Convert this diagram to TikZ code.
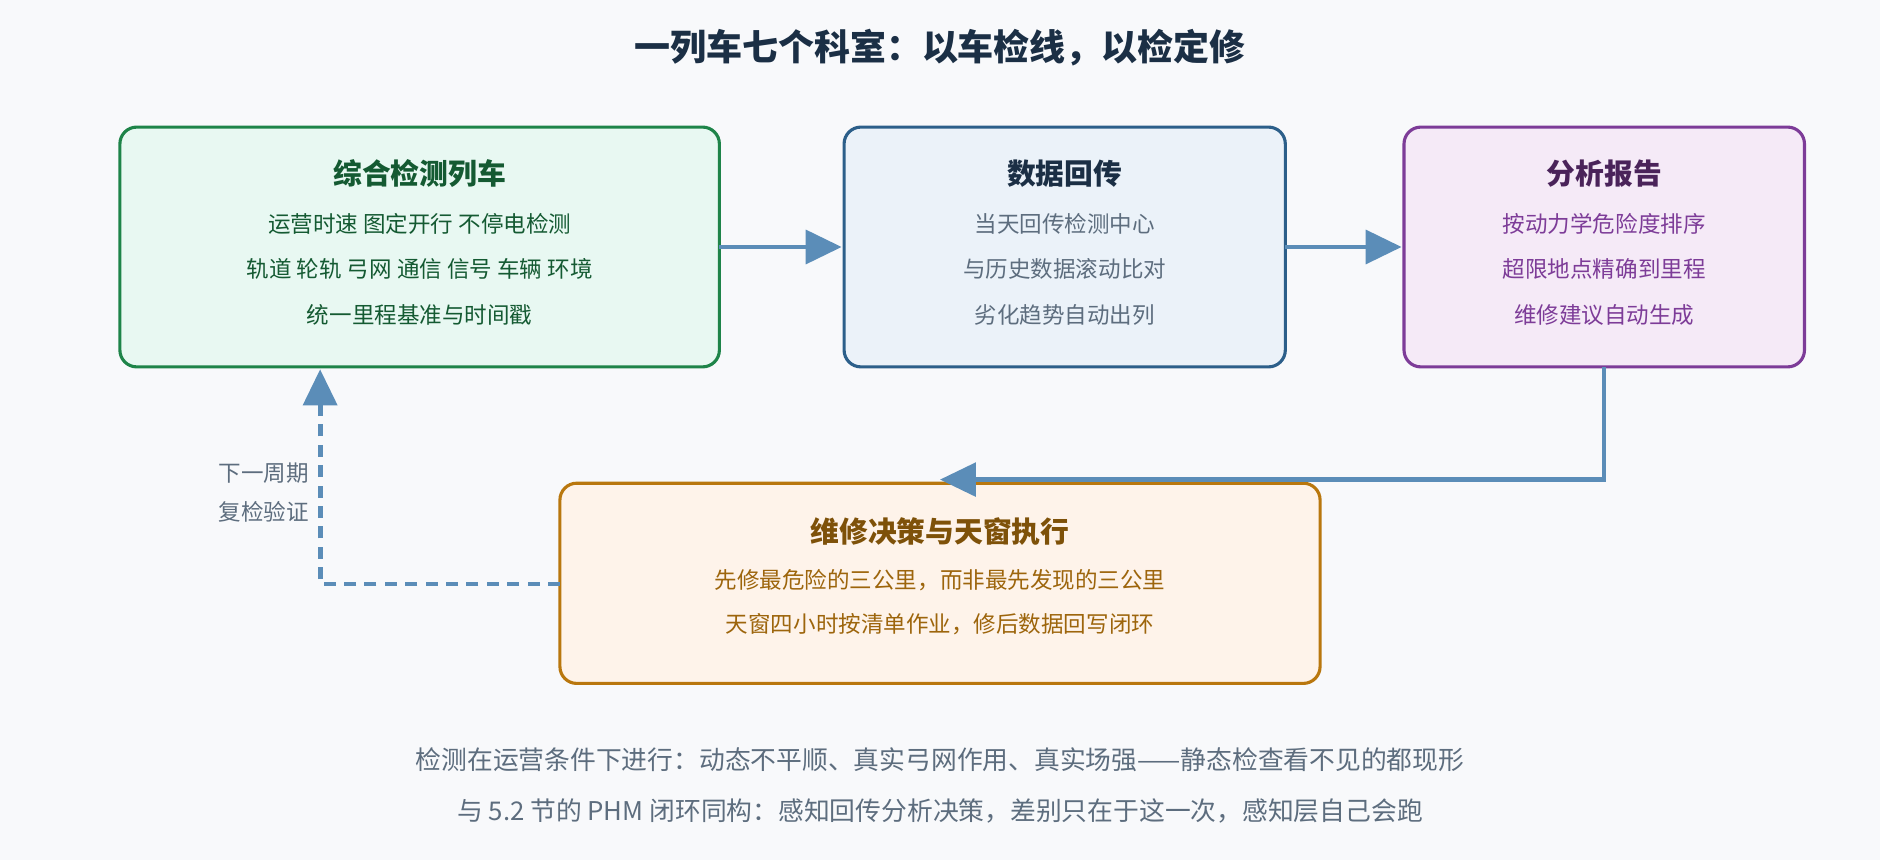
\documentclass[tikz,border=0pt]{standalone}
\usepackage{fontspec}
\setmainfont{Noto Sans CJK SC}
\usetikzlibrary{arrows.meta}
\definecolor{bgc}{HTML}{F8F9FB}
\definecolor{grnd}{HTML}{1E8449}\definecolor{grnf}{HTML}{E8F8F2}\definecolor{grnt}{HTML}{145A32}
\definecolor{blud}{HTML}{2C5F8A}\definecolor{bluf}{HTML}{EBF2F9}\definecolor{blut}{HTML}{1B2F45}
\definecolor{purd}{HTML}{7D3C98}\definecolor{purf}{HTML}{F5EAF7}\definecolor{purt}{HTML}{4A235A}
\definecolor{orgd}{HTML}{B9770E}\definecolor{orgf}{HTML}{FEF3EA}\definecolor{orgt}{HTML}{7E5109}
\definecolor{arrc}{HTML}{5B8DB8}\definecolor{gryt}{HTML}{5D6D7E}
\tikzset{
  box/.style={draw, line width=2.6pt, rounded corners=14pt},
  ttl/.style={font=\bfseries\fontsize{24}{28}\selectfont},
  txt/.style={font=\fontsize{18.8}{22}\selectfont},
  flow/.style={draw=arrc, line width=4pt, -{Triangle[length=30pt,width=28pt]}},
}
\begin{document}
\begin{tikzpicture}[x=1pt,y=1pt,yscale=-1]
\fill[bgc] (0,0) rectangle (1568,717);
\useasboundingbox (0,0) rectangle (1568,717);

% title
\node[font=\bfseries\fontsize{30}{34}\selectfont, text=blut] (title) at (784,40) {一列车七个科室：以车检线，以检定修};

% boxes
\draw[box, draw=grnd, fill=grnf] (100,106) rectangle (600,306);
\draw[box, draw=blud, fill=bluf] (704,106) rectangle (1072,306);
\draw[box, draw=purd, fill=purf] (1171,106) rectangle (1505,306);
\draw[box, draw=orgd, fill=orgf] (467,403) rectangle (1101,570);
\coordinate (train) at (350,206);
\coordinate (data) at (888,206);
\coordinate (report) at (1338,206);
\coordinate (repair) at (784,487);

% texts of the train box
\node[ttl, text=grnt] (trainT) at (350,145) {综合检测列车};
\node[txt, text=grnt] (trainA) at (350,187) {运营时速 图定开行 不停电检测};
\node[txt, text=grnt] (trainB) at (350,224) {轨道 轮轨 弓网 通信 信号 车辆 环境};
\node[txt, text=grnt] (trainC) at (350,263) {统一里程基准与时间戳};
% texts of the data box
\node[ttl, text=blut] (dataT) at (888,145) {数据回传};
\node[txt, text=gryt] (dataA) at (888,187) {当天回传检测中心};
\node[txt, text=gryt] (dataB) at (888,224) {与历史数据滚动比对};
\node[txt, text=gryt] (dataC) at (888,263) {劣化趋势自动出列};
% texts of the report box
\node[ttl, text=purt] (reportT) at (1338,145) {分析报告};
\node[txt, text=purd] (reportA) at (1338,187) {按动力学危险度排序};
\node[txt, text=purd] (reportB) at (1338,224) {超限地点精确到里程};
\node[txt, text=purd] (reportC) at (1338,263) {维修建议自动生成};
% texts of the repair box
\node[ttl, text=orgt] (repairT) at (784,443) {维修决策与天窗执行};
\node[txt, text=orgd!85!black] (repairA) at (784,484) {先修最危险的三公里，而非最先发现的三公里};
\node[txt, text=orgd!85!black] (repairB) at (784,521) {天窗四小时按清单作业，修后数据回写闭环};

% connectors
\coordinate (o1) at (600,206); \coordinate (i2) at (702,206);
\coordinate (o2) at (1072,206); \coordinate (i3) at (1169,206);
\coordinate (o3) at (1338,306); \coordinate (k3) at (1338,400); \coordinate (i4) at (784,400);
\coordinate (o4) at (467,487); \coordinate (k4) at (267,487); \coordinate (i1) at (267,308);
\draw[flow] (o1) -- (i2);
\draw[flow] (o2) -- (i3);
\draw[flow, line width=3.5pt] (o3) -- (k3) -- (i4);
\draw[flow, dash pattern=on 10pt off 7pt] (o4) -- (k4) -- (i1);
\node[txt, text=gryt, anchor=east] (loopA) at (261,395) {下一周期};
\node[txt, text=gryt, anchor=east] (loopB) at (261,427) {复检验证};

% footer
\node[font=\fontsize{21.5}{25}\selectfont, text=gryt] (noteA) at (784,634) {检测在运营条件下进行：动态不平顺、真实弓网作用、真实场强——静态检查看不见的都现形};
\node[font=\fontsize{21.5}{25}\selectfont, text=gryt] (noteB) at (784,676) {与 5.2 节的 PHM 闭环同构：感知回传分析决策，差别只在于这一次，感知层自己会跑};
\end{tikzpicture}
\end{document}
